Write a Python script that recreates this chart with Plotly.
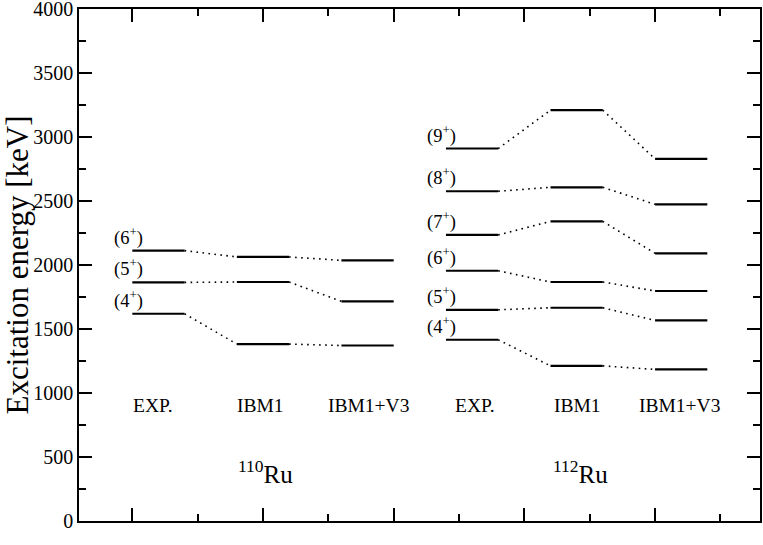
import plotly.graph_objects as go

# ---- data (keV) ----
ru110_exp = [1619, 1864, 2112]
ru110_ibm1 = [1382, 1867, 2063]
ru110_v3 = [1371, 1716, 2036]
ru110_spins = ["(4<sup>+</sup>)", "(5<sup>+</sup>)", "(6<sup>+</sup>)"]

ru112_exp = [1416, 1650, 1955, 2235, 2576, 2910]
ru112_ibm1 = [1212, 1666, 1867, 2341, 2607, 3210]
ru112_v3 = [1184, 1567, 1797, 2091, 2474, 2829]
ru112_spins = ["(4<sup>+</sup>)", "(5<sup>+</sup>)", "(6<sup>+</sup>)",
               "(7<sup>+</sup>)", "(8<sup>+</sup>)", "(9<sup>+</sup>)"]

column_names = ["EXP.", "IBM1", "IBM1+V3"]
nuclei = ["<sup>110</sup>Ru", "<sup>112</sup>Ru"]

# ---- layout of columns (x units) ----
col_centers = [[1.2, 2.0, 2.8], [3.6, 4.4, 5.2]]
half = 0.2
name_x = [[1.16, 1.98, 2.81], [3.62, 4.41, 5.19]]
nuc_x = [2.02, 4.43]

FONT = "Liberation Serif"

fig = go.Figure()

groups = [
    ([ru110_exp, ru110_ibm1, ru110_v3], ru110_spins),
    ([ru112_exp, ru112_ibm1, ru112_v3], ru112_spins),
]

seg_x, seg_y, con_x, con_y = [], [], [], []
annotations = []
for gi, (cols, spins) in enumerate(groups):
    centers = col_centers[gi]
    for ci, vals in enumerate(cols):
        c = centers[ci]
        for v in vals:
            seg_x += [c - half, c + half, None]
            seg_y += [v, v, None]
        if ci > 0:
            prev = cols[ci - 1]
            pc = centers[ci - 1]
            for a, b in zip(prev, vals):
                con_x += [pc + half, c - half, None]
                con_y += [a, b, None]
    # spin labels at EXP column
    for v, s in zip(cols[0], spins):
        annotations.append(dict(
            x=centers[0] - half + 0.095, y=v, xref="x", yref="y",
            text=s, showarrow=False, xanchor="right", yanchor="bottom",
            yshift=0, font=dict(family=FONT, size=18.5, color="black")))
    for ci, name in enumerate(column_names):
        annotations.append(dict(
            x=name_x[gi][ci], y=900, xref="x", yref="y", text=name,
            showarrow=False, xanchor="center", yanchor="middle",
            font=dict(family=FONT, size=19.5, color="black")))
    annotations.append(dict(
        x=nuc_x[gi], y=380, xref="x", yref="y", text=nuclei[gi],
        showarrow=False, xanchor="center", yanchor="middle",
        font=dict(family=FONT, size=25, color="black")))

fig.add_trace(go.Scatter(x=con_x, y=con_y, mode="lines",
                         line=dict(color="black", width=1.6, dash="1.6px,4.4px"),
                         hoverinfo="skip", showlegend=False))
fig.add_trace(go.Scatter(x=seg_x, y=seg_y, mode="lines",
                         line=dict(color="black", width=2.2),
                         hoverinfo="skip", showlegend=False))

fig.update_layout(
    width=763, height=545,
    margin=dict(l=78.5, r=3, t=9, b=24, autoexpand=False),
    paper_bgcolor="white", plot_bgcolor="white",
    showlegend=False,
    annotations=annotations,
    font=dict(family=FONT, color="black"),
)
fig.update_xaxes(
    range=[0.592, 5.803], tickmode="linear", tick0=1, dtick=1,
    showticklabels=False, showgrid=False, zeroline=False, automargin=False,
    ticks="inside", ticklen=13, tickwidth=1.5, tickcolor="black",
    minor=dict(ticks="inside", ticklen=7, tickwidth=1.5, tickcolor="black",
               tick0=0.5, dtick=0.5, showgrid=False),
    showline=True, linecolor="black", linewidth=1.5, mirror="allticks",
)
fig.update_yaxes(
    range=[0, 4000], tickmode="linear", tick0=0, dtick=500,
    showgrid=False, zeroline=False, automargin=False,
    ticklabeloverflow="allow",
    ticks="inside", ticklen=13, tickwidth=1.5, tickcolor="black",
    minor=dict(ticks="inside", ticklen=7, tickwidth=1.5, tickcolor="black",
               dtick=250, showgrid=False),
    showline=True, linecolor="black", linewidth=1.5, mirror="allticks",
    tickfont=dict(family=FONT, size=20, color="black"),
    title=dict(text="Excitation energy [keV]", standoff=1,
               font=dict(family=FONT, size=31, color="black")),
)

fig.write_html("out.html",
               config={"displayModeBar": False},
               post_script="document.body.style.margin='0';"
                           "document.body.style.padding='0';")
